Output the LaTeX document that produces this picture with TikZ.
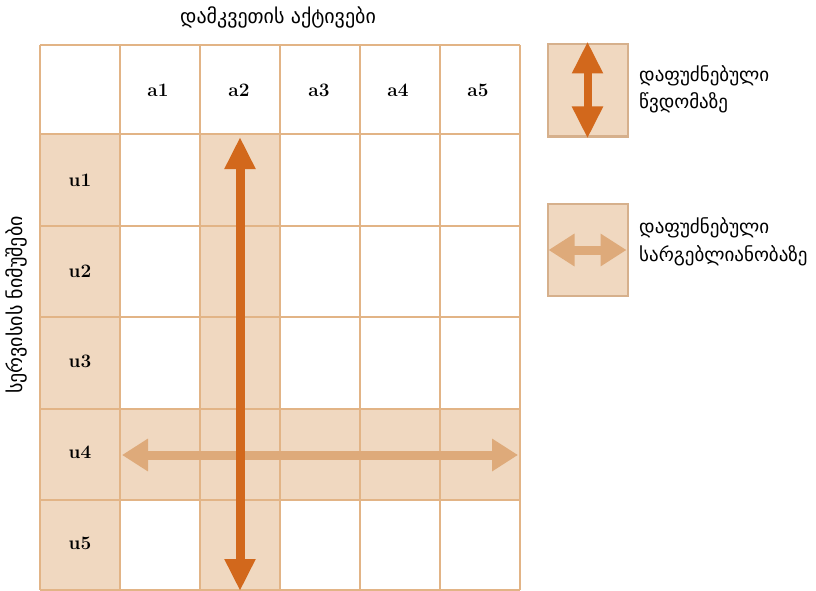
\documentclass[tikz,border=0pt]{standalone}
\usepackage{fontspec}
\newfontfamily\geo{DejaVu Sans}
\usetikzlibrary{arrows.meta}
\definecolor{gridline}{RGB}{226,180,134}
\definecolor{cellfill}{RGB}{240,216,192}
\definecolor{darkarrow}{RGB}{210,104,28}
\definecolor{lightarrow}{RGB}{222,170,122}
\definecolor{legendline}{RGB}{214,176,140}
\tikzset{
  gridstroke/.style={draw=gridline, line width=2.8pt},
  hdr/.style={font=\fontsize{19}{22}\selectfont\bfseries, inner sep=0pt},
  geotext/.style={font=\geo\fontsize{20}{24}\selectfont, inner sep=0pt},
  legtext/.style={font=\geo\fontsize{19}{23}\selectfont, inner sep=0pt, anchor=west},
  darkarr/.style={draw=darkarrow, line width=9pt, {Triangle[length=32pt,width=29pt]}-{Triangle[length=32pt,width=29pt]}},
  lightarr/.style={draw=lightarrow, line width=9pt, {Triangle[length=26pt,width=31pt]}-{Triangle[length=26pt,width=31pt]}},
  legbox/.style={draw=legendline, fill=cellfill, line width=2pt, minimum width=80pt, minimum height=92pt, inner sep=0pt},
}
\begin{document}
\begin{tikzpicture}[x=1pt,y=-1pt]
\useasboundingbox (0,0) rectangle (816,591);
\fill[white] (0,0) rectangle (816,591);
% shaded cells
\fill[cellfill] (40,134) rectangle (120,590);
\fill[cellfill] (200,134) rectangle (280,590);
\fill[cellfill] (40,409) rectangle (520,500);
% grid
\foreach \x in {40,120,200,280,360,440,520}
  \draw[gridstroke] (\x,45) -- (\x,590);
\foreach \y in {45,134,226,317,409,500,590}
  \draw[gridstroke] (40,\y) -- (520,\y);
% header labels
\node[hdr] (a1) at (158,90) {a1};
\node[hdr] (a2) at (239,90) {a2};
\node[hdr] (a3) at (319,90) {a3};
\node[hdr] (a4) at (398,90) {a4};
\node[hdr] (a5) at (478,90) {a5};
\node[hdr] (u1) at (80,180) {u1};
\node[hdr] (u2) at (80,271) {u2};
\node[hdr] (u3) at (80,361) {u3};
\node[hdr] (u4) at (80,452) {u4};
\node[hdr] (u5) at (80,543) {u5};
% titles
\node[geotext] (title) at (278,17) {დამკვეთის აქტივები};
\node[geotext, rotate=90] (side) at (16,305) {სერვისის ნიმუშები};
% arrows in grid
\coordinate (hl) at (122,455);
\coordinate (hr) at (518,455);
\coordinate (vt) at (240,137);
\coordinate (vb) at (240,591);
\draw[lightarr] (hl) -- (hr);
\draw[darkarr] (vt) -- (vb);
% legend
\node[legbox] (leg1) at (587.5,90.5) {};
\node[legbox] (leg2) at (587.5,250) {};
\draw[darkarr, line width=8pt] ([yshift=2pt]leg1.north) -- ([yshift=-1pt]leg1.south);
\draw[lightarr, line width=9pt] ([xshift=2pt]leg2.west) -- ([xshift=-2pt]leg2.east);
\node[legtext] (l1a) at (639,76) {დაფუძნებული};
\node[legtext] (l1b) at (639,103) {წვდომაზე};
\node[legtext] (l2a) at (639,228) {დაფუძნებული};
\node[legtext] (l2b) at (639,256) {სარგებლიანობაზე};
\end{tikzpicture}
\end{document}
